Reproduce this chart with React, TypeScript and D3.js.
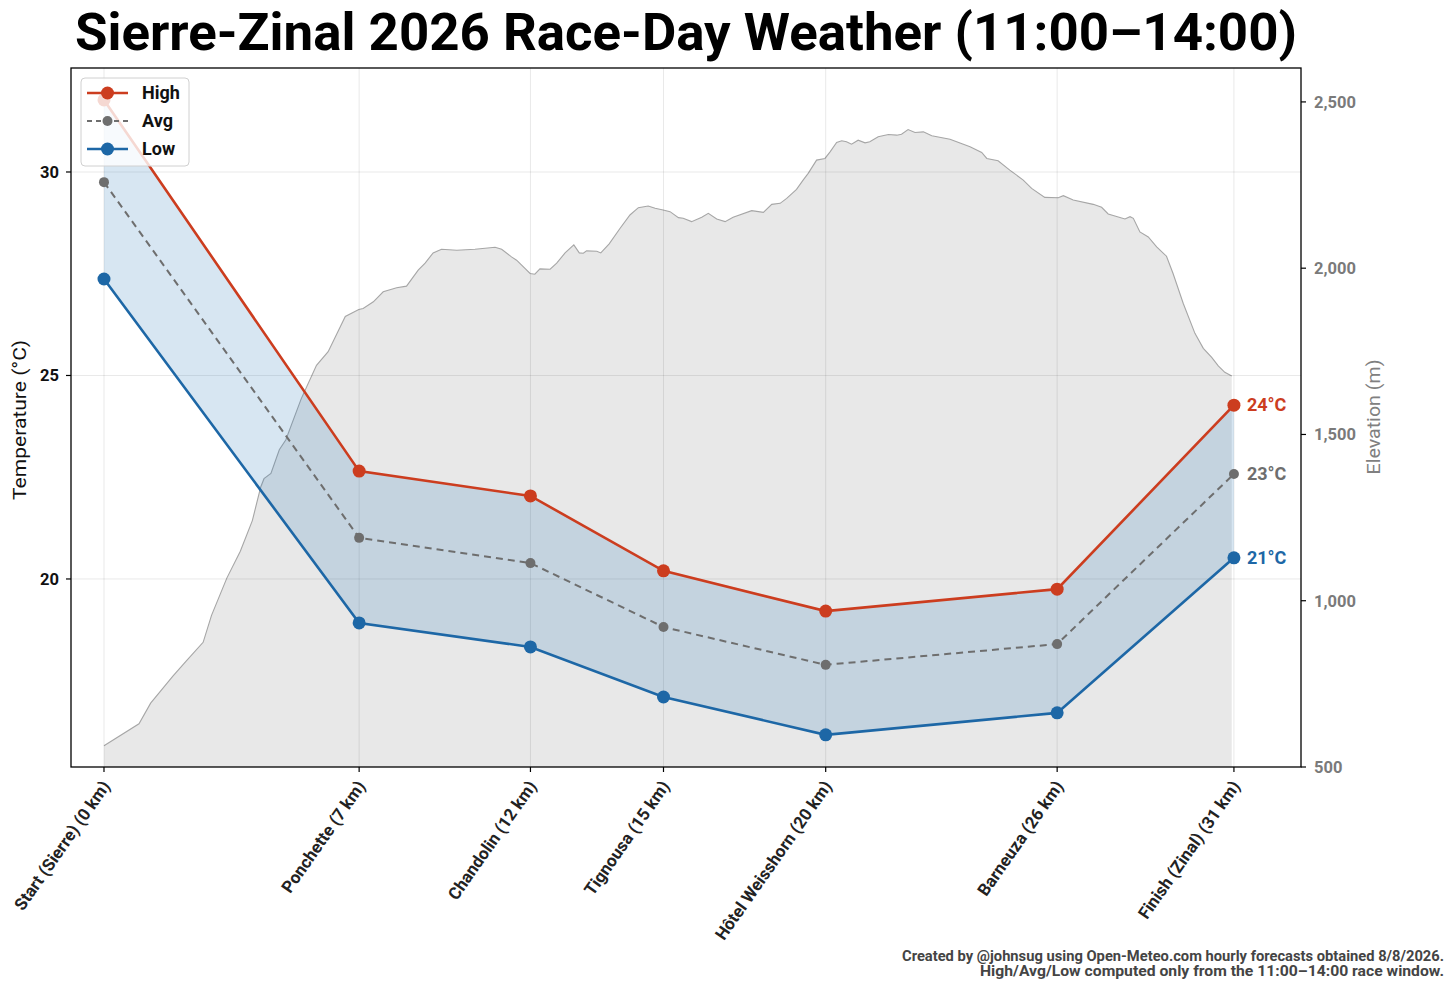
import React, { useEffect, useRef } from 'react';
import * as d3 from 'd3';

// checkpoints along the course
const stopNames = ['Start (Sierre) (0 km)', 'Ponchette (7 km)', 'Chandolin (12 km)', 'Tignousa (15 km)', 'Hôtel Weisshorn (20 km)', 'Barneuza (26 km)', 'Finish (Zinal) (31 km)'];
const stopKm = [0, 7.0, 11.7, 15.35, 19.8, 26.15, 31.0];

// temperatures (°C) in the 11:00–14:00 window
const highTemp = [31.77, 22.65, 22.04, 20.2, 19.21, 19.75, 24.27];
const avgTemp = [29.75, 21.01, 20.39, 18.82, 17.89, 18.4, 22.58];
const lowTemp = [27.37, 18.92, 18.33, 17.1, 16.17, 16.71, 20.52];

// course elevation profile
const profileKm = [0, 0.96, 1.28, 1.89, 2.26, 2.72, 2.95, 3.37, 3.74, 4.07, 4.3, 4.39, 4.58, 4.81, 4.99, 5.41, 5.83, 6.15, 6.62, 6.99,
  7.11, 7.39, 7.66, 8.03, 8.3, 8.62, 8.81, 9.03, 9.26, 9.68, 10.18, 10.73, 10.91, 11.18, 11.32, 11.69, 11.82, 11.96, 12.24, 12.42,
  12.65, 12.89, 13.04, 13.15, 13.24, 13.52, 13.63, 13.86, 14.16, 14.43, 14.66, 14.93, 15.12, 15.34, 15.53, 15.76, 15.89, 16.12,
  16.4, 16.58, 16.81, 17.04, 17.26, 17.77, 18.09, 18.32, 18.55, 18.73, 19.0, 19.18, 19.32, 19.55, 19.78, 19.92, 20.1, 20.24,
  20.37, 20.51, 20.69, 20.88, 21.01, 21.24, 21.52, 21.75, 21.88, 22.06, 22.25, 22.48, 22.71, 23.21, 23.76, 24.08, 24.22, 24.53,
  24.85, 25.22, 25.45, 25.81, 26.18, 26.32, 26.59, 27.14, 27.37, 27.55, 28.01, 28.15, 28.24, 28.42, 28.65, 28.88, 29.15, 29.33,
  29.61, 29.93, 30.16, 30.39, 30.57, 30.75, 30.94];
const profileElev = [564, 630, 692, 773, 819, 875, 956, 1068, 1149, 1241, 1342, 1367, 1383, 1454, 1484, 1607, 1708, 1749, 1855, 1876,
  1879, 1899, 1929, 1941, 1946, 1994, 2015, 2046, 2057, 2054, 2057, 2063, 2057, 2034, 2024, 1984, 1982, 1998, 1997, 2015,
  2046, 2070, 2046, 2045, 2052, 2051, 2046, 2073, 2120, 2160, 2182, 2187, 2180, 2175, 2170, 2152, 2150, 2140,
  2153, 2165, 2148, 2140, 2153, 2173, 2168, 2192, 2195, 2210, 2237, 2265, 2285, 2325, 2330, 2350, 2378, 2383,
  2380, 2373, 2385, 2377, 2380, 2395, 2402, 2400, 2403, 2417, 2408, 2410, 2398, 2388, 2365, 2348, 2330, 2323,
  2295, 2265, 2240, 2213, 2212, 2218, 2205, 2192, 2183, 2163, 2148, 2155, 2150, 2109, 2094, 2064, 2036, 1984,
  1894, 1804, 1759, 1732, 1706, 1687, 1676];

const tempTicks = [20, 25, 30];
const elevTicks = [500, 1000, 1500, 2000, 2500];

const footerLines = ['Created by @johnsug using Open-Meteo.com hourly forecasts obtained 8/8/2026.',
  'High/Avg/Low computed only from the 11:00–14:00 race window.'];

const RED = '#cc3d1f';
const GREY = '#6e6e6e';
const BLUE = '#1d67a6';

const W = 1456, H = 990;
const plot = { left: 71, right: 1301, top: 68, bottom: 767 };
const SANS = 'Roboto, "DejaVu Sans", sans-serif';

const App: React.FC = () => {
  const ref = useRef<SVGSVGElement | null>(null);

  useEffect(() => {
    const svg = d3.select(ref.current);
    svg.selectAll('*').remove();

    const x = d3.scaleLinear().domain([-0.905, 32.84]).range([plot.left, plot.right]);
    const yT = d3.scaleLinear().domain([15.38, 32.555]).range([plot.bottom, plot.top]);
    const yE = d3.scaleLinear().domain([500, 2602]).range([plot.bottom, plot.top]);

    svg.append('rect').attr('width', W).attr('height', H).attr('fill', '#fff');

    // title
    svg.append('text')
      .attr('x', 686).attr('y', 50)
      .attr('text-anchor', 'middle')
      .attr('textLength', 1222).attr('lengthAdjust', 'spacingAndGlyphs')
      .style('font-family', SANS).style('font-weight', 700).style('font-size', '52px')
      .attr('fill', '#000')
      .text('Sierre-Zinal 2026 Race-Day Weather (11:00–14:00)');

    const g = svg.append('g');

    // elevation profile (background)
    const profile = profileKm.map((k, i) => [k, profileElev[i]] as [number, number]);
    g.append('path')
      .attr('d', d3.area<[number, number]>().x(d => x(d[0])).y0(yE(500)).y1(d => yE(d[1]))(profile) as string)
      .attr('fill', '#e8e8e8');
    g.append('path')
      .attr('d', d3.line<[number, number]>().x(d => x(d[0])).y(d => yE(d[1]))(profile) as string)
      .attr('fill', 'none').attr('stroke', '#a6a6a6').attr('stroke-width', 1.1);

    // grid
    tempTicks.forEach(t => {
      g.append('line').attr('x1', plot.left).attr('x2', plot.right).attr('y1', yT(t)).attr('y2', yT(t))
        .attr('stroke', 'rgba(0,0,0,0.09)').attr('stroke-width', 1);
    });
    stopKm.forEach(k => {
      g.append('line').attr('x1', x(k)).attr('x2', x(k)).attr('y1', plot.top).attr('y2', plot.bottom)
        .attr('stroke', 'rgba(0,0,0,0.09)').attr('stroke-width', 1);
    });

    // band between high and low
    const idx = d3.range(stopKm.length);
    g.append('path')
      .attr('d', d3.area<number>().x(i => x(stopKm[i])).y0(i => yT(lowTemp[i])).y1(i => yT(highTemp[i]))(idx) as string)
      .attr('fill', '#2a7ab8').attr('fill-opacity', 0.19);

    const series = [
      { vals: highTemp, color: RED, dash: null, r: 6.5, w: 2.6 },
      { vals: avgTemp, color: GREY, dash: '7,5', r: 5, w: 2 },
      { vals: lowTemp, color: BLUE, dash: null, r: 6.5, w: 2.6 },
    ];
    series.forEach(s => {
      g.append('path')
        .attr('d', d3.line<number>().x(i => x(stopKm[i])).y(i => yT(s.vals[i]))(idx) as string)
        .attr('fill', 'none').attr('stroke', s.color).attr('stroke-width', s.w)
        .attr('stroke-dasharray', s.dash);
      idx.forEach(i => {
        g.append('circle').attr('cx', x(stopKm[i])).attr('cy', yT(s.vals[i])).attr('r', s.r).attr('fill', s.color);
      });
      const last = idx.length - 1;
      g.append('text')
        .attr('x', x(stopKm[last]) + 13).attr('y', yT(s.vals[last]))
        .attr('dy', '0.35em')
        .style('font-family', SANS).style('font-weight', 700).style('font-size', '18px')
        .attr('fill', s.color)
        .text(`${Math.round(s.vals[last])}°C`);
    });

    // frame
    svg.append('rect').attr('x', plot.left).attr('y', plot.top)
      .attr('width', plot.right - plot.left).attr('height', plot.bottom - plot.top)
      .attr('fill', 'none').attr('stroke', '#000').attr('stroke-width', 1.3);

    // left axis
    tempTicks.forEach(t => {
      svg.append('line').attr('x1', plot.left - 5).attr('x2', plot.left).attr('y1', yT(t)).attr('y2', yT(t))
        .attr('stroke', '#000').attr('stroke-width', 1.2);
      svg.append('text').attr('x', plot.left - 12).attr('y', yT(t)).attr('dy', '0.35em')
        .attr('text-anchor', 'end')
        .style('font-family', SANS).style('font-weight', 700).style('font-size', '16.5px')
        .attr('fill', '#111').text(String(t));
    });
    svg.append('text')
      .attr('transform', `translate(26, 420) rotate(-90)`)
      .attr('text-anchor', 'middle')
      .attr('textLength', 160).attr('lengthAdjust', 'spacingAndGlyphs')
      .style('font-family', SANS).style('font-size', '19px').attr('fill', '#111')
      .text('Temperature (°C)');

    // right axis
    elevTicks.forEach(t => {
      svg.append('line').attr('x1', plot.right).attr('x2', plot.right + 5).attr('y1', yE(t)).attr('y2', yE(t))
        .attr('stroke', '#000').attr('stroke-width', 1.2);
      svg.append('text').attr('x', plot.right + 13).attr('y', yE(t)).attr('dy', '0.35em')
        .style('font-family', SANS).style('font-weight', 700).style('font-size', '16.5px')
        .attr('fill', '#7a7a7a').text(d3.format(',')(t));
    });
    svg.append('text')
      .attr('transform', `translate(1380, 417) rotate(-90)`)
      .attr('text-anchor', 'middle')
      .attr('textLength', 115).attr('lengthAdjust', 'spacingAndGlyphs')
      .style('font-family', SANS).style('font-size', '18px').attr('fill', '#808080')
      .text('Elevation (m)');

    // x ticks
    stopKm.forEach((k, i) => {
      svg.append('line').attr('x1', x(k)).attr('x2', x(k)).attr('y1', plot.bottom).attr('y2', plot.bottom + 5)
        .attr('stroke', '#000').attr('stroke-width', 1.2);
      svg.append('text')
        .attr('transform', `translate(${x(k) + 7}, ${plot.bottom + 19}) rotate(-55)`)
        .attr('text-anchor', 'end')
        .style('font-family', SANS).style('font-weight', 700).style('font-size', '17px')
        .attr('fill', '#222').text(stopNames[i]);
    });

    // legend
    const lg = svg.append('g').attr('transform', 'translate(81, 78)');
    lg.append('rect').attr('width', 108).attr('height', 88).attr('rx', 4)
      .attr('fill', '#fff').attr('fill-opacity', 0.8).attr('stroke', '#d0d0d0');
    const legendItems = [
      { label: 'High', color: RED, dash: null, r: 6.5, w: 2.6 },
      { label: 'Avg', color: GREY, dash: '5,4', r: 5, w: 2 },
      { label: 'Low', color: BLUE, dash: null, r: 6.5, w: 2.6 },
    ];
    legendItems.forEach((it, i) => {
      const yy = 15 + i * 28;
      lg.append('line').attr('x1', 6).attr('x2', 47).attr('y1', yy).attr('y2', yy)
        .attr('stroke', it.color).attr('stroke-width', it.w).attr('stroke-dasharray', it.dash);
      lg.append('circle').attr('cx', 26.5).attr('cy', yy).attr('r', it.r).attr('fill', it.color);
      lg.append('text').attr('x', 61).attr('y', yy).attr('dy', '0.35em')
        .style('font-family', SANS).style('font-weight', 700).style('font-size', '18px')
        .attr('fill', '#111').text(it.label);
    });

    // footer
    const footLen = [542, 464];
    footerLines.forEach((f, i) => {
      svg.append('text').attr('x', 1444).attr('y', 961 + i * 15)
        .attr('text-anchor', 'end')
        .attr('textLength', footLen[i]).attr('lengthAdjust', 'spacingAndGlyphs')
        .style('font-family', SANS).style('font-weight', 700).style('font-size', '14px')
        .attr('fill', '#444').text(f);
    });
  }, []);

  return (
    <svg ref={ref} width={W} height={H}
      style={{ position: 'absolute', left: 0, top: 0, display: 'block' }} />
  );
};

export default App;
